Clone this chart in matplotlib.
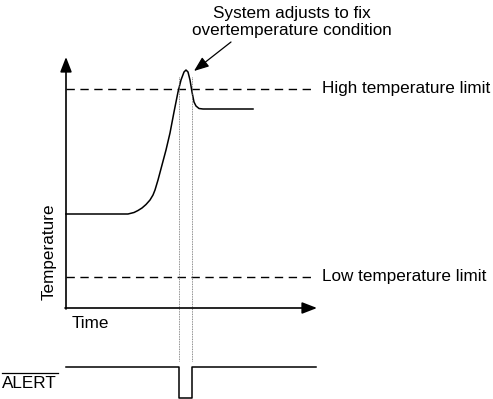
import matplotlib
matplotlib.use("Agg")
import matplotlib.pyplot as plt
import numpy as np

plt.rcParams['font.family'] = ['Liberation Sans', 'DejaVu Sans']

# temperature curve (time, temperature) in diagram units
time = [66, 128, 134, 138, 142, 146, 150, 153, 155, 158, 162, 166, 170, 174, 178, 181, 184, 186, 188, 190, 192, 194, 196, 199, 203, 253]
temp = [214, 214, 212.5, 210.5, 208, 204.5, 200, 195, 190, 180, 165, 150, 133, 112, 92, 80, 72, 70, 72, 80, 92, 102, 106, 108.5, 109, 109]

high_limit = 89
low_limit = 277
alert_start, alert_end = 179, 192
alert_high, alert_low = 366.5, 398

fig = plt.figure(figsize=(4.93, 3.99), dpi=100)
ax = fig.add_axes([0, 0, 1, 1])
ax.set_xlim(0, 493)
ax.set_ylim(399, 0)
ax.axis('off')

head = '-|>,head_length=0.9,head_width=0.35'
# axes arrows
ax.annotate('', xy=(66, 57), xytext=(66, 309),
            arrowprops=dict(arrowstyle=head, color='black', lw=1.2, shrinkA=0, shrinkB=0))
ax.annotate('', xy=(317, 308), xytext=(65, 308),
            arrowprops=dict(arrowstyle=head, color='black', lw=1.2, shrinkA=0, shrinkB=0))

# limits
ax.plot([66, 314], [high_limit, high_limit], color='black', lw=1, dashes=(6, 4))
ax.plot([66, 314], [low_limit, low_limit], color='black', lw=1, dashes=(6, 4))

# temperature curve
ax.plot(time, temp, color='black', lw=1.1)

# dotted verticals
for x in (alert_start, alert_end):
    ax.plot([x, x], [77, 361], color='#666666', lw=0.6, ls=(0, (1, 1)))

# ALERT signal
ax.plot([66, alert_start, alert_start, alert_end, alert_end, 316],
        [alert_high, alert_high, alert_low, alert_low, alert_high, alert_high], color='black', lw=1.1)

fs = 12.3
ax.text(322, high_limit, 'High temperature limit', fontsize=fs, va='center', ha='left')
ax.text(322, low_limit, 'Low temperature limit', fontsize=fs, va='center', ha='left')
ax.text(49, 252, 'Temperature', fontsize=fs, rotation=90, va='center', ha='center')
ax.text(72, 323, 'Time', fontsize=fs, va='center', ha='left')
ax.text(2, 388, 'ALERT', fontsize=fs, va='baseline', ha='left')
ax.plot([2, 58], [372.5, 372.5], color='black', lw=0.9)
ax.text(292, 22, 'System adjusts to fix\novertemperature condition', fontsize=fs,
        ha='center', va='center', linespacing=1.2)
ax.annotate('', xy=(194, 71), xytext=(231, 42),
            arrowprops=dict(arrowstyle=head, color='black', lw=0.9, shrinkA=0, shrinkB=0))

fig.savefig('out.png', dpi=100)
